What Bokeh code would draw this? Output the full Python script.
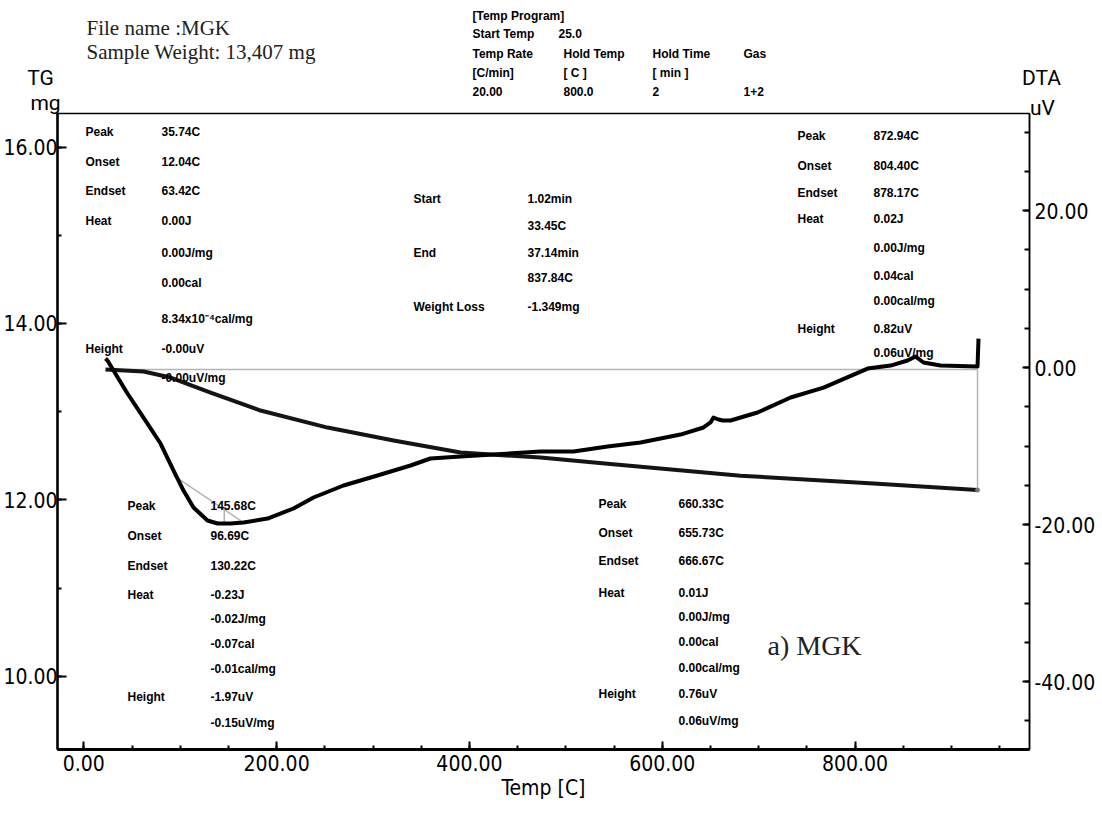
from bokeh.plotting import figure
from bokeh.models import Range1d, LinearAxis, FixedTicker, NumeralTickFormatter, ColumnDataSource
from bokeh.core.properties import value
from bokeh.embed import file_html
from bokeh.resources import INLINE

# ---- TG trace: sample mass (mg) against temperature (C)
tg_temp = [22.5, 62.0, 90.0, 131.5, 183.3, 252.8, 321.3, 390.8, 473.8, 543.3, 681.3, 819.3, 927.1]
tg_mass = [13.477, 13.454, 13.386, 13.216, 13.012, 12.819, 12.672, 12.536, 12.479, 12.410,
           12.274, 12.185, 12.110]

# ---- DTA trace: signal (uV) against temperature (C)
dta_temp = [22.5, 24.6, 30.8, 45.3, 61.9, 79.6, 93.1, 103.4, 113.8, 128.3, 138.7, 152.2, 165.7,
            190.6, 217.5, 238.3, 269.4, 304.6, 338.9, 359.6, 390.8, 425.0, 473.8, 508.0, 543.3,
            577.5, 619.0, 642.8, 650.1, 653.2, 658.4, 662.6, 670.9, 698.9, 733.2, 767.4, 813.0,
            836.9, 854.5, 862.8, 871.1, 888.7, 927.1, 928.1]
dta_uv = [1.15, 0.89, -0.38, -3.31, -6.37, -9.68, -13.12, -15.67, -17.83, -19.49, -19.87, -19.87,
          -19.75, -19.24, -17.96, -16.56, -15.03, -13.76, -12.48, -11.59, -11.34, -11.08, -10.70,
          -10.70, -10.06, -9.55, -8.54, -7.64, -7.00, -6.37, -6.62, -6.75, -6.75, -5.73, -3.82,
          -2.55, -0.13, 0.25, 0.89, 1.40, 0.64, 0.25, 0.13, 3.69]

# ---- weight-loss step (start / end of the analysed interval)
step_temp = [31.0, 927.1]
step_mass = [13.477, 12.110]

# ---- endotherm analysis: tangent and peak marker
tangent_temp = [93.3, 165.7]
tangent_uv = [-13.76, -19.75]
peak_temp = [145.68, 145.68]
peak_uv = [-17.7, -19.9]

# ---- axes
temp_major = [0, 200, 400, 600, 800]
temp_minor = list(range(0, 1000, 50))
tg_major = [10, 12, 14, 16]
tg_minor = [9, 10, 11, 12, 13, 14, 15, 16]
dta_major = [-40, -20, 0, 20]
dta_minor = list(range(-45, 35, 5))

# ---- result blocks (label, value)
block_low_temp = [("Peak", "35.74C"), ("Onset", "12.04C"), ("Endset", "63.42C"), ("Heat", "0.00J"),
                  ("", "0.00J/mg"), ("", "0.00cal"), ("", "8.34x10\u207b\u2074cal/mg"),
                  ("Height", "-0.00uV"), ("", "-0.00uV/mg")]
block_weight = [("Start", "1.02min"), ("", "33.45C"), ("End", "37.14min"), ("", "837.84C"),
                ("Weight Loss", "-1.349mg")]
block_high_temp = [("Peak", "872.94C"), ("Onset", "804.40C"), ("Endset", "878.17C"), ("Heat", "0.02J"),
                   ("", "0.00J/mg"), ("", "0.04cal"), ("", "0.00cal/mg"), ("Height", "0.82uV"),
                   ("", "0.06uV/mg")]
block_endo = [("Peak", "145.68C"), ("Onset", "96.69C"), ("Endset", "130.22C"), ("Heat", "-0.23J"),
              ("", "-0.02J/mg"), ("", "-0.07cal"), ("", "-0.01cal/mg"), ("Height", "-1.97uV"),
              ("", "-0.15uV/mg")]
block_660 = [("Peak", "660.33C"), ("Onset", "655.73C"), ("Endset", "666.67C"), ("Heat", "0.01J"),
             ("", "0.00J/mg"), ("", "0.00cal"), ("", "0.00cal/mg"), ("Height", "0.76uV"),
             ("", "0.06uV/mg")]
program_rows = [["[Temp Program]"], ["Start Temp", "25.0"],
                ["Temp Rate", "Hold Temp", "Hold Time", "Gas"],
                ["[C/min]", "[ C ]", "[ min ]"], ["20.00", "800.0", "2", "1+2"]]

NARROW = "DejaVu Sans Condensed"
CAPTION = "Roboto"
SMALL = "Liberation Sans"

FL, FT, FR, FB = 57, 113, 1029, 749   # frame edges on the canvas
W, H = 1102, 814
X0, X1 = -27.3, 981.0
Y0, Y1 = 9.169, 16.38

p = figure(width=W, height=H, output_backend="svg", toolbar_location=None,
           x_range=Range1d(X0, X1), y_range=Range1d(Y0, Y1),
           min_border_left=FL, min_border_right=W - FR, min_border_top=FT, min_border_bottom=H - FB,
           background_fill_color="white", border_fill_color="white")
p.extra_y_ranges = {"dta": Range1d(-48.66, 32.36)}
p.xgrid.visible = False
p.ygrid.visible = False
p.outline_line_color = "black"
p.outline_line_width = 1.5
p.outline_line_alpha = 1.0

xa = p.xaxis[0]
xa.ticker = FixedTicker(ticks=temp_major, minor_ticks=temp_minor)
xa.formatter = NumeralTickFormatter(format="0.00")
xa.axis_label = "Temp [C]"
ya = p.yaxis[0]
ya.ticker = FixedTicker(ticks=tg_major, minor_ticks=tg_minor)
ya.formatter = NumeralTickFormatter(format="0.00")
ra = LinearAxis(y_range_name="dta", ticker=FixedTicker(ticks=dta_major, minor_ticks=dta_minor),
                formatter=NumeralTickFormatter(format="0.00"))
p.add_layout(ra, "right")

for ax, tin, mtin, lw in [(xa, 8, 4, 3), (ya, 9, 4, 2.5), (ra, 7, 5, 1.5)]:
    ax.axis_line_color = "black"
    ax.axis_line_width = lw
    ax.major_tick_in = tin
    ax.major_tick_out = 0
    ax.minor_tick_in = mtin
    ax.minor_tick_out = 0
    ax.major_tick_line_width = 2
    ax.minor_tick_line_width = 2
    ax.major_tick_line_color = "black"
    ax.minor_tick_line_color = "black"
    ax.major_label_text_font = NARROW
    ax.major_label_text_font_size = "21px"
    ax.major_label_text_color = "black"
    ax.major_label_standoff = 5
    ax.axis_label_text_font = NARROW
    ax.axis_label_text_font_size = "21px"
    ax.axis_label_text_font_style = "normal"
    ax.axis_label_text_color = "black"
    ax.axis_label_standoff = 2
ya.major_label_standoff = 0

# ---- traces
p.line(step_temp, [step_mass[0], step_mass[0]], line_color="#b4b4b4", line_width=1.5)
p.line([step_temp[1], step_temp[1]], step_mass, line_color="#b4b4b4", line_width=1.5)
p.line(tangent_temp, tangent_uv, y_range_name="dta", line_color="#b4b4b4", line_width=1.5)
p.line(peak_temp, peak_uv, y_range_name="dta", line_color="#b4b4b4", line_width=1.5)
p.line(tg_temp, tg_mass, line_color="#141414", line_width=4, line_join="round")
p.line(dta_temp, dta_uv, y_range_name="dta", line_color="black", line_width=4, line_join="round")
p.scatter([step_temp[1]], [step_mass[1]], marker="circle", size=4, color="#777777")

# ---- free text, positioned in canvas pixels relative to the frame's lower-left corner
groups = {}


def put(text, cx, cy, size="12px", font=SMALL, style="bold", align="left", baseline="middle",
        color="black"):
    key = (size, font, style, align, baseline, color)
    g = groups.setdefault(key, {"text": [], "dx": [], "dy": []})
    g["text"].append(text)
    g["dx"].append(cx - FL)
    g["dy"].append(cy - FB)


def put_block(rows, lx, vx, ys):
    for (lab, val), y in zip(rows, ys):
        if lab:
            put(lab, lx, y)
        put(val, vx, y)


put_block(block_low_temp, 85, 161, [131, 161, 190, 220, 252, 282, 318, 348, 377])
put_block(block_weight, 413, 527, [198, 225, 252, 277, 306])
put_block(block_high_temp, 797, 873, [135, 165, 192, 218, 247, 275, 300, 328, 352])
put_block(block_endo, 127, 210, [505, 535, 565, 594, 618, 643, 668, 696, 722])
put_block(block_660, 598, 678, [503, 532, 560, 592, 616, 641, 667, 693, 720])

col_x = [472, 563, 652, 743]
for row, y in zip(program_rows, [15, 33, 53, 72, 91]):
    xs = col_x if len(row) > 2 else [472, 558]
    for txt, x in zip(row, xs):
        put(txt, x, y, size="12px")

put("File name :MGK", 86, 27, size="21px", font="Liberation Serif", style="normal",
    baseline="alphabetic", color="#222222")
put("Sample Weight: 13,407 mg", 86, 51, size="21px", font="Liberation Serif", style="normal",
    baseline="alphabetic", color="#222222")
put("TG", 40, 77, size="21px", font=CAPTION, style="normal", align="center", baseline="alphabetic")
put("mg", 45, 102, size="21px", font=CAPTION, style="normal", align="center", baseline="alphabetic")
put("DTA", 1041, 77, size="21px", font=CAPTION, style="normal", align="center", baseline="alphabetic")
put("uV", 1042, 107, size="21px", font=CAPTION, style="normal", align="center", baseline="alphabetic")
put("a) MGK", 767, 645, size="28px", font="Liberation Serif", style="normal", baseline="alphabetic",
    color="#222222")

for (size, font, style, align, baseline, color), g in groups.items():
    n = len(g["text"])
    src = ColumnDataSource(dict(x=[X0] * n, y=[Y0] * n, text=g["text"], dx=g["dx"], dy=g["dy"]))
    p.text(x="x", y="y", text="text", x_offset="dx", y_offset="dy", source=src, level="overlay",
           text_font=value(font), text_font_size=size, text_font_style=style,
           text_align=align, text_baseline=baseline, text_color=color)

open("out.html", "w").write(file_html(p, INLINE))
